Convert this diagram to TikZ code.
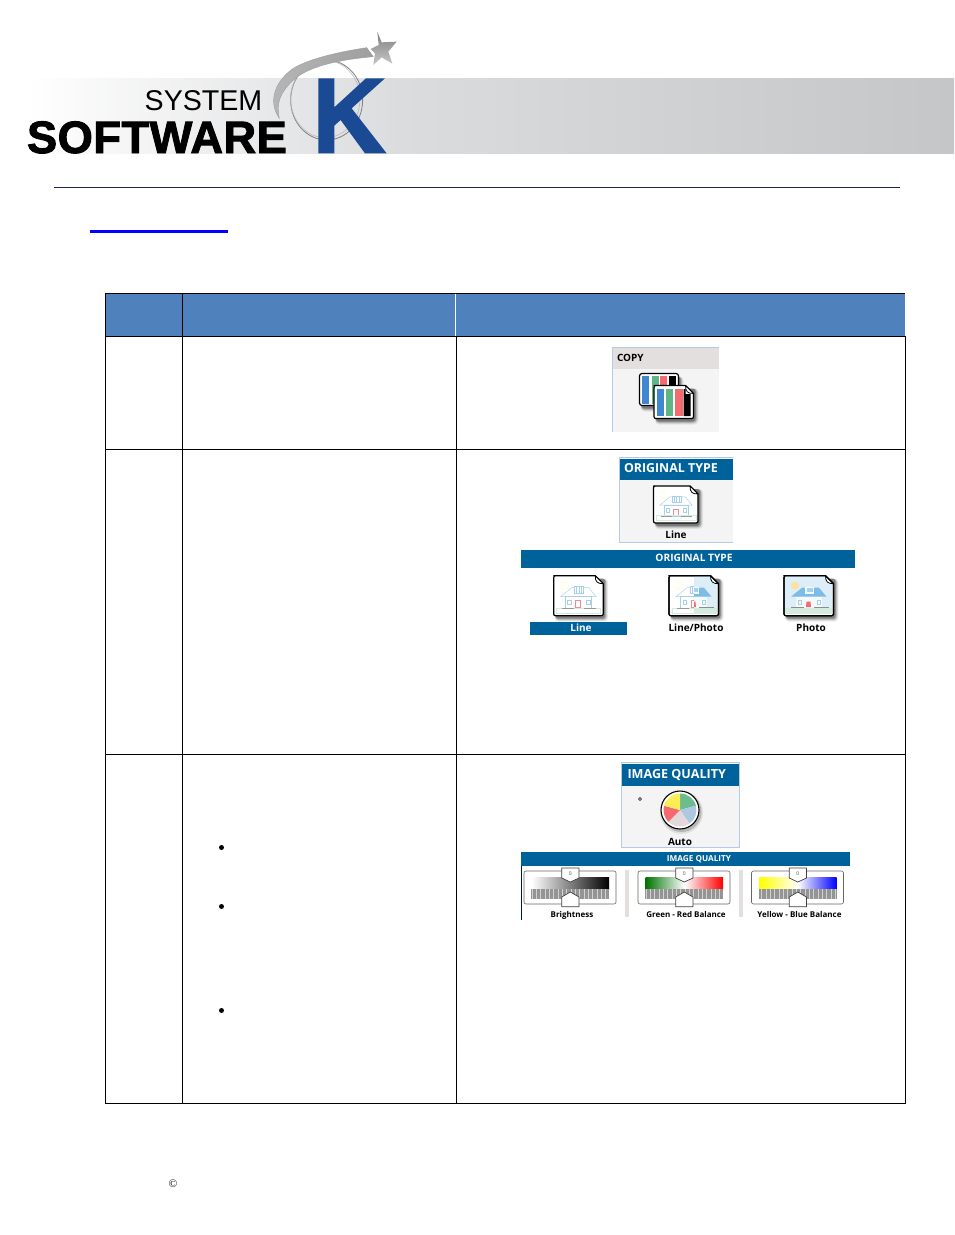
\documentclass[tikz,border=0pt]{standalone}
\usepackage{fontspec}
\setmainfont{Open Sans}
\newfontfamily\logofont{Liberation Sans}
\newfontfamily\logobold[FakeBold=2.0,LetterSpace=1.0]{Liberation Sans Bold}
\newfontfamily\serifchar{Liberation Serif}
\definecolor{headblue}{HTML}{4F81BD}
\definecolor{uiblue}{HTML}{00629B}
\definecolor{panelgrey}{HTML}{F4F4F4}
\definecolor{panelline}{HTML}{B4CAE6}
\definecolor{copyhead}{HTML}{E3DFDE}
\definecolor{kblue}{HTML}{1B4A94}
\definecolor{rulenavy}{HTML}{2E3180}
\definecolor{cblue}{HTML}{3F87D0}
\definecolor{cgreen}{HTML}{5FB586}
\definecolor{cred}{HTML}{F46A6E}
\definecolor{houseline}{HTML}{A6D0EC}
\definecolor{houseblue}{HTML}{7CBCE8}
\definecolor{skyblue}{HTML}{DDEEF9}
\definecolor{lawn}{HTML}{D4EBDD}
\definecolor{sepgrey}{HTML}{E3DFDE}
\definecolor{piegreen}{HTML}{6DBB8E}
\definecolor{pieblue}{HTML}{AFC8E2}
\definecolor{piegrey}{HTML}{E3D9DA}
\definecolor{pieyellow}{HTML}{FBEE55}
\definecolor{logomid}{HTML}{DBDCDE}
\definecolor{logoend}{HTML}{C4C6C8}
\tikzset{
  x=1pt,y=-1pt,
  label/.style={inner sep=0pt,outer sep=0pt,anchor=base,font=\bfseries\fontsize{10}{10}\selectfont,text=black},
  smalllabel/.style={label,font=\bfseries\fontsize{8}{9}\selectfont},
  headtext/.style={inner sep=0pt,outer sep=0pt,font=\bfseries\fontsize{12.4}{13}\selectfont,text=white,anchor=base west},
  bartext/.style={inner sep=0pt,outer sep=0pt,anchor=base,font=\bfseries\fontsize{10.2}{10}\selectfont,text=white},
  tablerule/.style={line width=1pt,draw=black},
  handle/.style={draw=black!75,fill=white,line width=.7pt,line join=round},
  bullet/.style={circle,fill=black,inner sep=0pt,minimum size=5pt},
  hline/.style={draw=houseline,line width=.45pt},
}
% document icon: shadow, body and folded corner, w x h at (x,y)
\newcommand{\docshape}[2]{(0,0) -- (#1-8,0) -- (#1,8) -- (#1,#2-4) .. controls (#1,#2) and (#1,#2) .. (#1-4,#2) -- (4,#2) .. controls (0,#2) and (0,#2) .. (0,#2-4) -- (0,4) .. controls (0,0) and (0,0) .. (4,0) -- cycle}
\newcommand{\docshadow}[2]{%
    \fill[black,opacity=.07,rounded corners=4pt] (1,3) rectangle (#1+5,#2+6);
    \fill[black,opacity=.10,rounded corners=4pt] (1.5,3) rectangle (#1+4,#2+5);
    \fill[black,opacity=.16,rounded corners=3pt] (1.5,3) rectangle (#1+3,#2+4);
    \fill[black,opacity=.28,rounded corners=3pt] (2,3) rectangle (#1+2,#2+3);}
\newcommand{\docfold}[1]{%
    \filldraw[draw=black,fill=white,line width=.8pt,line join=round] (#1-8,0) .. controls (#1-8,6) and (#1-6,8) .. (#1,8) -- cycle;}
\newcommand{\docicon}[4]{%
  \begin{scope}[shift={(#1,#2)}]
    \docshadow{#3}{#4}
    \filldraw[draw=black,fill=white,line width=1.2pt,line join=round] \docshape{#3}{#4};
    \docfold{#3}
  \end{scope}}
\newcommand{\houselines}{%
  \draw[draw=yellow!25,line width=.4pt] (11,10) circle (4);
  \draw[hline] (7,21) -- (18,12) -- (35,12) -- (42.5,21) -- cycle;
  \draw[hline] (11.5,21) rectangle (38,33);
  \draw[hline,fill=white] (21,11) rectangle (30,18);
  \draw[hline] (23,11) -- (23,18) (25.5,11) -- (25.5,18) (28,11) -- (28,18);
  \draw[draw=cred!80,line width=.5pt] (22,25) rectangle (27,32);
  \draw[hline] (14,24.5) rectangle (17.5,28.5) (33,24.5) rectangle (36.5,28.5);
  \draw[draw=lawn,line width=.5pt] (3,32.5) rectangle (47,37.5);
  \draw[draw=black!40,line width=.5pt] (8,33) -- (20,33) (30,33) -- (42,33);}
\newcommand{\housephoto}{%
  \begin{scope}
    \fill[skyblue] (1,1) -- (41,1) -- (48,8) -- (48,33) -- (1,33) -- cycle;
    \fill[yellow!40!orange!35] (11,10) circle (4);
    \fill[lawn] (1,32.5) rectangle (48,38);
    \fill[white!70!skyblue] (11.5,21) rectangle (38,32.5);
    \fill[houseblue] (7,21) -- (18,12) -- (35,12) -- (42.5,21) -- cycle;
    \fill[white!70!skyblue] (21,11) rectangle (30,18);
    \fill[houseblue!70] (22.5,12.5) rectangle (28.5,16.5);
    \fill[cred] (22.5,26) -- (26.5,26) -- (27,31.5) -- (22,31.5) -- cycle;
    \draw[hline] (14,24.5) rectangle (17.5,28.5) (33,24.5) rectangle (36.5,28.5);
    \draw[draw=black!45,line width=.9pt] (7,32) -- (20,32) (30,32) -- (45,32);
  \end{scope}}
\newcommand{\sliderunit}[4]{% x, left, middle, right colour
  \begin{scope}[shift={(#1,0)}]
    \draw[draw=black!60,line width=.6pt,rounded corners=2pt,fill=white] (524,871) rectangle (616,904);
    \shade[left color=#2,right color=#4,middle color=#3,draw=none] (531.7,877) rectangle (609,889);
    \fill[black!18] (531.7,889) rectangle (609,899);
    \foreach \t in {0,1.3,...,77}{\draw[black!42,line width=.55pt] (531.7+\t,889) -- (531.7+\t,899);}
    \draw[handle] (561.7,868) -- (579,868) -- (579,878) -- (570.3,882) -- (561.7,878) -- cycle;
    \node[inner sep=0pt,font=\fontsize{5}{5}\selectfont,text=black!70] at (570.3,873.5) {0};
    \draw[handle] (561.7,906.7) -- (579,906.7) -- (579,897) -- (570.3,892) -- (561.7,897) -- cycle;
  \end{scope}}
\begin{document}
\begin{tikzpicture}
\useasboundingbox (0,0) rectangle (954,1235);
\fill[white] (0,0) rectangle (954,1235);
% ---------- logo band
\shade[left color=white,right color=logomid] (27,78) rectangle (401,153.5);
\shade[left color=logomid,right color=logoend] (400,78) rectangle (954,153.5);
\begin{scope}[shift={(260,25)},x=.3333pt,y=-.3333pt]
  % ring
  \draw[draw=black!50,line width=.8pt] (200,225) ellipse (108 and 120);
  \draw[draw=black!28,line width=.6pt] (196,222) ellipse (104 and 116);
  % swoosh
  \shade[left color=black!28,middle color=black!8,right color=black!38,draw=black!38,line width=.4pt]
    (320,68) .. controls (240,80) and (150,100) .. (100,130)
    .. controls (50,165) and (20,225) .. (58,280)
    .. controls (48,235) and (60,205) .. (95,170)
    .. controls (140,125) and (230,105) .. (340,95) -- cycle;
  % star
  \shade[top color=black!50,bottom color=black!22,draw=none]
    (352,20) -- (365,52) -- (410,50) -- (385,80) -- (397,116) -- (365,97)
    -- (340,120) -- (345,85) -- (332,72) -- (356,60) -- cycle;
\end{scope}
\begin{scope}[shift={(0,20)},x=.3333pt,y=-.3333pt]
  % K
  \fill[kblue] (955,175) -- (1003,175) -- (1003,262) -- (1098,175) -- (1155,175)
    -- (1055,265) -- (1160,400) -- (1095,400) -- (1022,300) -- (1003,317) -- (1003,400) -- (955,400) -- cycle;
\end{scope}
\node[inner sep=0pt,anchor=base west,font=\logofont\fontsize{28.6}{29}\selectfont] (logoSystem) at (144.5,110.5) {SYSTEM};
\node[inner sep=0pt,anchor=base west,font=\logobold\fontsize{45.3}{46}\selectfont] (logoSoftware) at (26.8,153) {SOFTWARE};
% ---------- rule and link underline
\draw[draw=rulenavy!70!black,line width=.8pt] (54,187.3) -- (900,187.3);
\fill[blue] (90,230) rectangle (228,233);
% ---------- table
\fill[headblue] (105.5,293.5) rectangle (905,336);
\draw[white,line width=1pt] (455.5,294) -- (455.5,336);
\draw[tablerule] (105.5,293.5) -- (905,293.5);
\draw[tablerule] (105.5,336.5) -- (905.5,336.5);
\draw[tablerule] (105.5,449.5) -- (905.5,449.5);
\draw[tablerule] (105.5,754.5) -- (905.5,754.5);
\draw[tablerule] (105.5,1103.5) -- (905.5,1103.5);
\draw[tablerule] (105.5,293) -- (105.5,1104);
\draw[tablerule] (182.5,293) -- (182.5,1104);
\draw[tablerule] (456.5,336) -- (456.5,1104);
\draw[tablerule] (905.5,336) -- (905.5,1104);
\node[bullet] (b1) at (221.5,847.5) {};
\node[bullet] (b2) at (221.5,906.5) {};
\node[bullet] (b3) at (221.5,1010.5) {};
\node[inner sep=0pt,font=\serifchar\fontsize{11.5}{11}\selectfont] (copyr) at (173,1184) {©};
% ---------- COPY panel
\fill[panelgrey] (612,347) rectangle (719,432);
\fill[copyhead] (612,347) rectangle (719,369);
\draw[draw=panelline,line width=.8pt] (612.4,432) -- (612.4,347.4) -- (719,347.4);
\node[headtext,font=\bfseries\fontsize{10}{10}\selectfont,text=black] (copyT) at (617,361.7) {COPY};
\begin{scope}[shift={(639.5,373.5)}]
  \docshadow{39}{32}
  \filldraw[draw=black,fill=white,line width=1.2pt,rounded corners=2.5pt] (0,0) rectangle (39,32);
  \fill[cblue] (2.8,2.5) rectangle (9.5,30);
  \fill[cgreen] (12,2.5) rectangle (19,30);
  \fill[cred] (20.5,2.5) rectangle (27,30);
  \fill[black] (29,2.5) rectangle (36,30);
\end{scope}
\docicon{654}{385.5}{39.5}{33}
\begin{scope}[shift={(654,385.5)}]
  \fill[cblue] (2.7,3.5) rectangle (10,30.5);
  \fill[cgreen] (12,3.5) rectangle (19,30.5);
  \fill[cred] (21,3.5) rectangle (29,30.5);
  \fill[black] (29.5,3.5) -- (31.5,3.5) -- (31.5,8.5) -- (36.5,8.5) -- (36.5,30.5) -- (29.5,30.5) -- cycle;
\end{scope}
% ---------- ORIGINAL TYPE panel
\fill[panelgrey] (619,457) rectangle (733,543);
\draw[draw=panelline,line width=1pt] (733,457.5) -- (619.5,457.5) -- (619.5,542.5) -- (733,542.5);
\fill[uiblue] (620,459) rectangle (733,479.5);
\node[headtext] (otT) at (624,472.5) {ORIGINAL TYPE};
\docicon{653.5}{486}{44.5}{37}
\begin{scope}[shift={(653.5,486)},scale=.91]\houselines\end{scope}
\node[label] (otL) at (676,538.7) {Line};
% bar
\fill[uiblue] (521,550) rectangle (855,567.5);
\node[bartext] (otBar) at (694,561.5) {ORIGINAL TYPE};
\docicon{553.7}{575.7}{49.5}{40}
\begin{scope}[shift={(553.7,575.7)}]\houselines\end{scope}
\docicon{669}{575.7}{49.5}{40}
\begin{scope}[shift={(669,575.7)}]
  \begin{scope}
    \clip (25,0.5) rectangle (49,39.5);
    \housephoto
  \end{scope}
  \begin{scope}
    \clip (0.5,0.5) rectangle (25,39.5);
    \houselines
  \end{scope}
  \docfold{49.5}
  \draw[draw=black,line width=1.2pt,line join=round] \docshape{49.5}{40};
\end{scope}
\docicon{784}{575.7}{49.5}{40}
\begin{scope}[shift={(784,575.7)}]
  \housephoto
  \docfold{49.5}
  \draw[draw=black,line width=1.2pt,line join=round] \docshape{49.5}{40};
\end{scope}
\fill[uiblue] (530,622) rectangle (627,635);
\node[label,text=white] (l1) at (581,631.5) {Line};
\node[label] (l2) at (696,631.5) {Line/Photo};
\node[label] (l3) at (811,631.5) {Photo};
% ---------- IMAGE QUALITY panel
\fill[panelgrey] (621,762) rectangle (740,848);
\draw[draw=panelline,line width=1pt] (621.5,762.5) rectangle (739.5,847.5);
\fill[uiblue] (622,764) rectangle (739,786);
\node[headtext,font=\bfseries\fontsize{12.6}{13}\selectfont] (iqT) at (627.5,778) {IMAGE QUALITY};
\fill[black,opacity=.08] (681.5,812.5) circle (21.5);
\fill[black,opacity=.18] (681.5,812) circle (20);
\filldraw[draw=black,fill=white,line width=1.1pt] (680,810) circle (19);
\begin{scope}[shift={(680,810)},y=1pt]
  \fill[piegreen] (0,0) -- (90:16.5) arc[start angle=90,end angle=15,radius=16.5] -- cycle;
  \fill[pieblue] (0,0) -- (15:16.5) arc[start angle=15,end angle=-55,radius=16.5] -- cycle;
  \fill[piegrey] (0,0) -- (-55:16.5) arc[start angle=-55,end angle=-135,radius=16.5] -- cycle;
  \fill[cred] (0,0) -- (-135:16.5) arc[start angle=-135,end angle=-195,radius=16.5] -- cycle;
  \fill[pieyellow] (0,0) -- (165:16.5) arc[start angle=165,end angle=90,radius=16.5] -- cycle;
\end{scope}
\draw[black,line width=.6pt] (640,797.5) -- (641.5,799) -- (640,800.5) -- (638.5,799) -- cycle;
\node[label] (iqA) at (680,845.5) {Auto};
% bar and sliders
\fill[uiblue] (521,852) rectangle (850,866);
\draw[draw=black!70!uiblue,line width=.7pt] (521.3,866) -- (521.3,920);
\node[bartext,font=\bfseries\fontsize{8.2}{9}\selectfont] (iqBar) at (699,861.7) {IMAGE QUALITY};
\fill[sepgrey] (625,870) rectangle (628.7,917);
\fill[sepgrey] (739,870) rectangle (742.7,917);
\sliderunit{0}{white}{black!50}{black}
\sliderunit{114}{green!45!black}{white}{red}
\sliderunit{227.5}{yellow}{white}{blue}
\node[smalllabel] (s1) at (572,917) {Brightness};
\node[smalllabel] (s2) at (686,917) {Green - Red Balance};
\node[smalllabel] (s3) at (799.5,917) {Yellow - Blue Balance};
\end{tikzpicture}
\end{document}
